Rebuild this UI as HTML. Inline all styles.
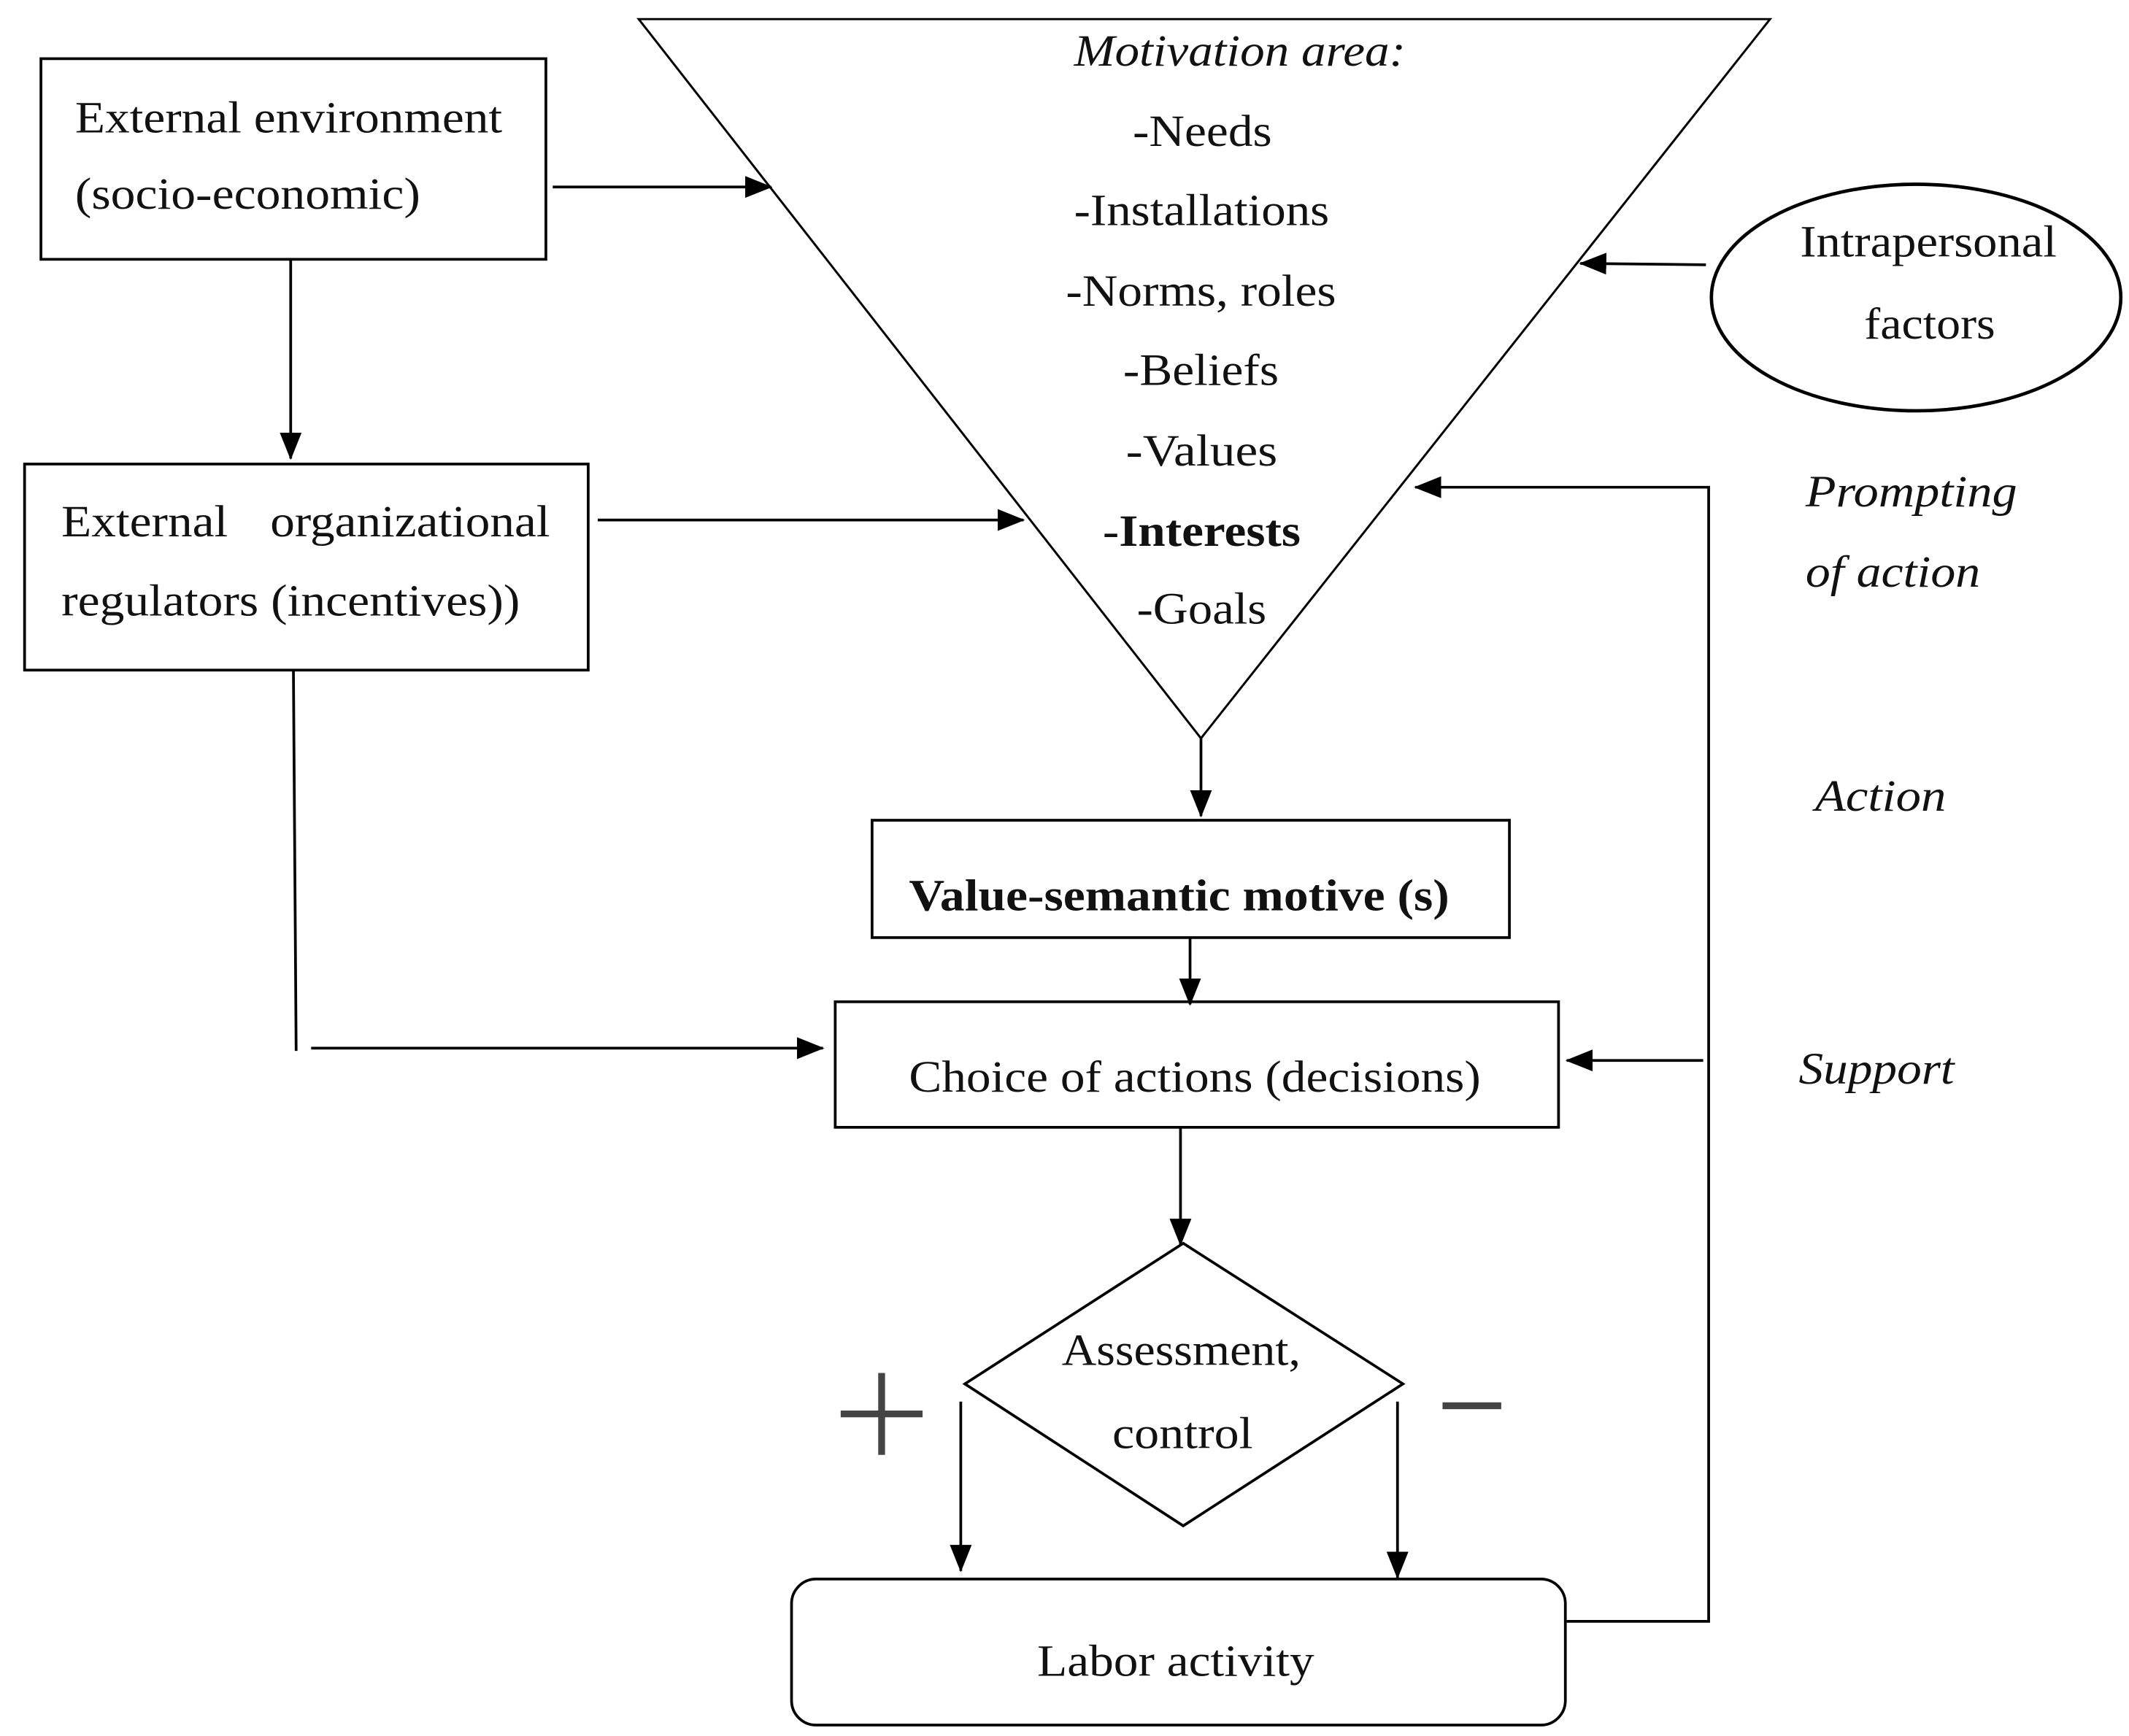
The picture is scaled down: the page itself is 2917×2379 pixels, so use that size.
<!DOCTYPE html>
<html><head><meta charset="utf-8"><style>
html,body{margin:0;padding:0;background:#fff;}
svg{display:block;}
text{font-family:"Liberation Serif",serif;font-size:33px;fill:#111;}
</style></head><body>
<svg width="2917" height="2379" viewBox="0 0 1560 1272" preserveAspectRatio="none" xmlns="http://www.w3.org/2000/svg">
<defs>
<marker id="b" markerWidth="20" markerHeight="20" refX="19" refY="10" orient="auto" markerUnits="userSpaceOnUse" viewBox="0 0 20 20"><path d="M0,2 L20,10 L0,18 z" fill="#000"/></marker></defs>
<g fill="none" stroke="#000" stroke-width="2">
<rect x="30" y="43" width="370" height="147"/>
<rect x="18" y="340" width="413" height="151"/>
<polygon points="468,14 1297,14 880,541" stroke-width="1.6"/>
<ellipse cx="1404" cy="218" rx="150" ry="83" stroke-width="2.5"/>
<rect x="639" y="601" width="467" height="86"/>
<rect x="612" y="734" width="530" height="92"/>
<polygon points="867,911 1028,1014 867,1118 707,1014"/>
<rect x="580" y="1157" width="567" height="107" rx="18"/>
<line x1="405" y1="137" x2="565" y2="137" marker-end="url(#b)"/>
<line x1="438" y1="381" x2="750" y2="381" marker-end="url(#b)"/>
<line x1="1250" y1="194" x2="1158" y2="193" marker-end="url(#b)"/>
<polyline points="1148,1188 1252,1188 1252,357 1037,357" marker-end="url(#b)"/>
<line x1="1248" y1="777" x2="1148" y2="777" marker-end="url(#b)"/>
<line x1="213" y1="190" x2="213" y2="336" marker-end="url(#b)"/>
<line x1="215" y1="491" x2="217" y2="770"/>
<line x1="228" y1="768" x2="603" y2="768" marker-end="url(#b)"/>
<line x1="880" y1="541" x2="880" y2="598" marker-end="url(#b)"/>
<line x1="872" y1="687" x2="872" y2="736" marker-end="url(#b)"/>
<line x1="865" y1="826" x2="865" y2="912" marker-end="url(#b)"/>
<line x1="704" y1="1027" x2="704" y2="1151" marker-end="url(#b)"/>
<line x1="1024" y1="1027" x2="1024" y2="1156" marker-end="url(#b)"/>
<line x1="616" y1="1036" x2="676" y2="1036" stroke="#444" stroke-width="5"/>
<line x1="646" y1="1006" x2="646" y2="1066" stroke="#444" stroke-width="5"/>
<line x1="1057" y1="1030" x2="1100" y2="1030" stroke="#444" stroke-width="5"/>
</g>
<text x="55" y="97" textLength="313" lengthAdjust="spacingAndGlyphs">External environment</text>
<text x="55" y="153" textLength="253" lengthAdjust="spacingAndGlyphs">(socio-economic)</text>
<text x="45" y="393" textLength="122" lengthAdjust="spacingAndGlyphs">External</text><text x="198" y="393" textLength="205" lengthAdjust="spacingAndGlyphs">organizational</text>
<text x="45" y="451" textLength="336" lengthAdjust="spacingAndGlyphs">regulators (incentives))</text>
<text x="787" y="48" font-style="italic" textLength="243" lengthAdjust="spacingAndGlyphs">Motivation area:</text>
<text x="830" y="107" textLength="102" lengthAdjust="spacingAndGlyphs">-Needs</text>
<text x="787" y="165" textLength="187" lengthAdjust="spacingAndGlyphs">-Installations</text>
<text x="781" y="224" textLength="198" lengthAdjust="spacingAndGlyphs">-Norms, roles</text>
<text x="823" y="282" textLength="114" lengthAdjust="spacingAndGlyphs">-Beliefs</text>
<text x="825" y="341" textLength="111" lengthAdjust="spacingAndGlyphs">-Values</text>
<text x="808" y="400" textLength="145" lengthAdjust="spacingAndGlyphs">-<tspan font-weight="bold">Interests</tspan></text>
<text x="833" y="457" textLength="95" lengthAdjust="spacingAndGlyphs">-Goals</text>
<text x="1319" y="188" textLength="188" lengthAdjust="spacingAndGlyphs">Intrapersonal</text>
<text x="1366" y="248" textLength="96" lengthAdjust="spacingAndGlyphs">factors</text>
<text x="666" y="667" font-weight="bold" textLength="396" lengthAdjust="spacingAndGlyphs">Value-semantic motive (s)</text>
<text x="666" y="800" textLength="419" lengthAdjust="spacingAndGlyphs">Choice of actions (decisions)</text>
<text x="778" y="1000" textLength="175" lengthAdjust="spacingAndGlyphs">Assessment,</text>
<text x="815" y="1061" textLength="103" lengthAdjust="spacingAndGlyphs">control</text>
<text x="760" y="1228" textLength="203" lengthAdjust="spacingAndGlyphs">Labor activity</text>
<text x="1323" y="371" font-style="italic" textLength="155" lengthAdjust="spacingAndGlyphs">Prompting</text>
<text x="1323" y="430" font-style="italic" textLength="128" lengthAdjust="spacingAndGlyphs">of action</text>
<text x="1330" y="594" font-style="italic" textLength="96" lengthAdjust="spacingAndGlyphs">Action</text>
<text x="1318" y="794" font-style="italic" textLength="114" lengthAdjust="spacingAndGlyphs">Support</text>
</svg>
</body></html>
